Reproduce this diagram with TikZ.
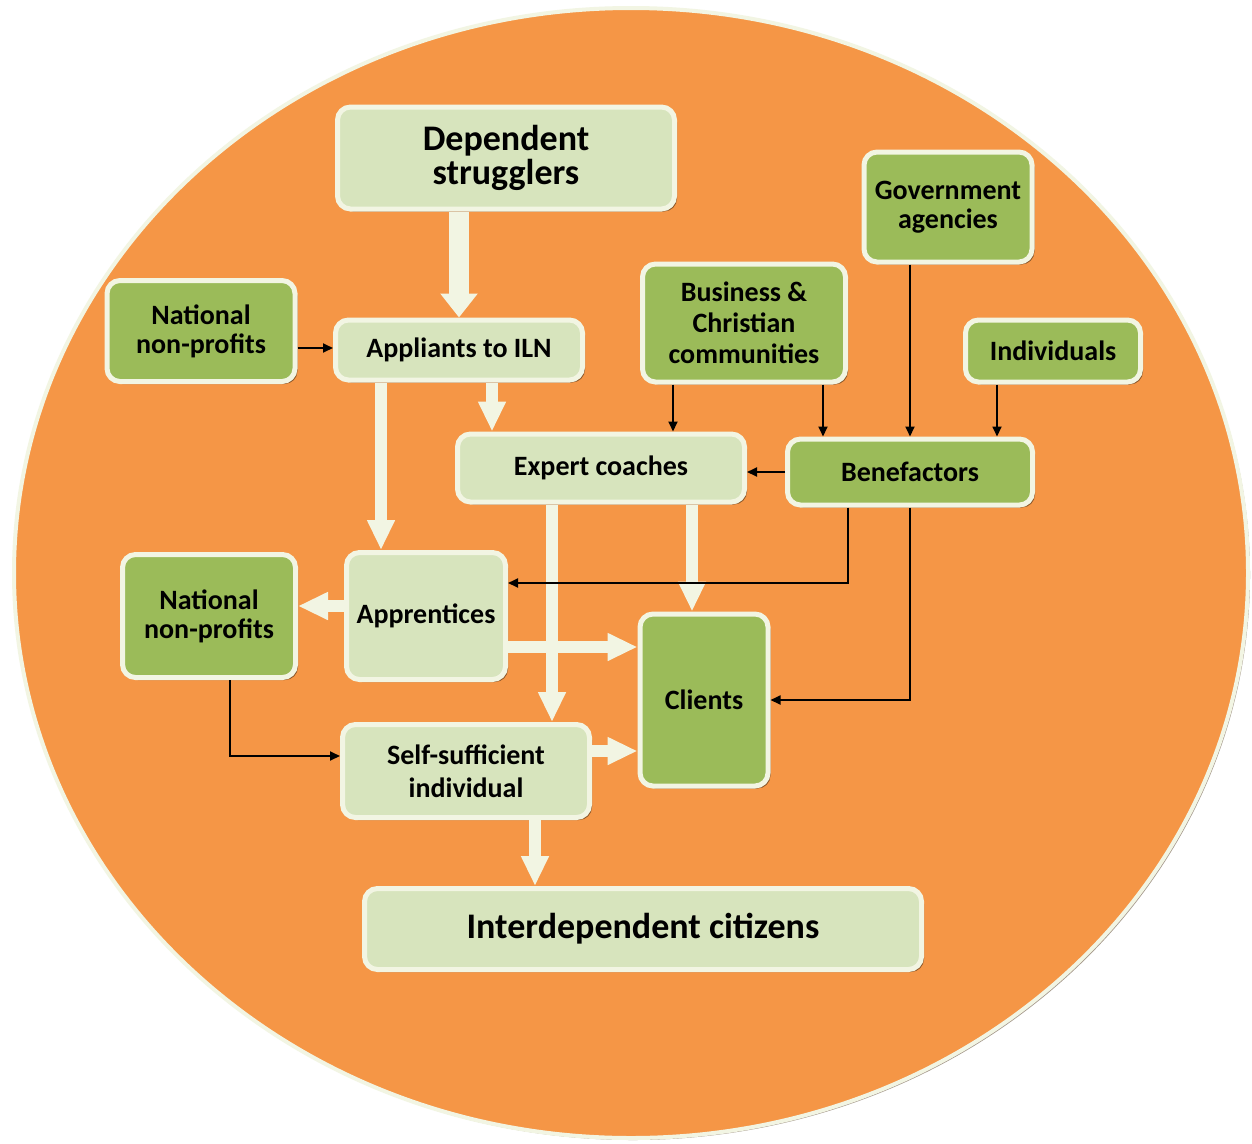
\documentclass[tikz,border=0pt]{standalone}
\usepackage{fontspec}
\setmainfont{Carlito}
\usetikzlibrary{arrows.meta,calc,shadows}

\definecolor{orangebg}{RGB}{245,150,70}
\definecolor{paleleaf}{RGB}{215,228,189}
\definecolor{leaf}{RGB}{155,187,89}
\definecolor{rimcol}{RGB}{242,245,227}

\tikzset{every picture/.style={line width=0.75pt}}
\tikzset{
  stagebox/.style={draw=rimcol, line width=5pt, rounded corners=13pt, align=center, inner sep=0pt,
    font=\bfseries\fontsize{28}{29}\selectfont,
    drop shadow={shadow xshift=2.5pt, shadow yshift=-2.5pt, fill=black!75!brown, opacity=0.55}},
  palebox/.style={stagebox, fill=paleleaf},
  leafbox/.style={stagebox, fill=leaf},
  flowarrow/.style={draw=rimcol, line width=12pt, -{Triangle[length=30pt,width=26pt]}},
  bigflowarrow/.style={draw=rimcol, line width=20pt, -{Triangle[length=24pt,width=36pt]}},
  linkarrow/.style={draw=black, line width=1.8pt, -{Triangle[length=10pt,width=9pt]}}
}

\begin{document}
\begin{tikzpicture}[x=1pt,y=1pt,yscale=-1,xscale=1]
\useasboundingbox (0,0) rectangle (1252,1143);
\fill[white] (0,0) rectangle (1252,1143);

%Shape: Ellipse
\draw[draw=rimcol, line width=4pt, fill=orangebg, drop shadow={shadow xshift=2pt, shadow yshift=-2pt, fill=black!60!brown, opacity=0.5}] (631,573) ellipse [x radius=617, y radius=565];

%Stages
\node[palebox, minimum width=337pt, minimum height=102pt, font=\bfseries\fontsize{36}{34}\selectfont] (dep) at (506,158) {Dependent\\strugglers};
\node[leafbox, minimum width=188pt, minimum height=101pt] (nnp1) at (201,331) {National\\non-profits};
\node[palebox, minimum width=247pt, minimum height=60pt] (appl) at (459,350) {Appliants to ILN};
\node[leafbox, minimum width=203pt, minimum height=118pt, font=\bfseries\fontsize{28}{31}\selectfont] (bus) at (744,323) {Business \&\\Christian\\communities};
\node[leafbox, minimum width=168pt, minimum height=110pt] (gov) at (948,207) {Government\\agencies};
\node[leafbox, minimum width=175pt, minimum height=62pt] (indiv) at (1053,351) {Individuals};
\node[palebox, minimum width=287pt, minimum height=68pt] (expert) at (601,468) {Expert coaches};
\node[leafbox, minimum width=245pt, minimum height=66pt] (bene) at (910,472) {Benefactors};
\node[leafbox, minimum width=173pt, minimum height=123pt] (nnp2) at (209,616) {National\\non-profits};
\node[palebox, minimum width=159pt, minimum height=127pt] (appr) at (426,616) {Apprentices};
\node[leafbox, minimum width=128pt, minimum height=172pt] (clients) at (704,700) {Clients};
\node[palebox, minimum width=247pt, minimum height=93pt, font=\bfseries\fontsize{28}{33}\selectfont] (self) at (466,771) {Self-sufficient\\individual};
\node[palebox, minimum width=557pt, minimum height=81pt, font=\bfseries\fontsize{36}{34}\selectfont] (citizens) at (643,929) {Interdependent citizens};

%Thick flows
\coordinate (f1) at ($(appl.south)+(-78,0)$);
\coordinate (f2) at ($(appl.south)+(33,0)$);
\coordinate (f3) at ($(expert.south)+(-49,0)$);
\coordinate (f4) at ($(expert.south)+(91,0)$);
\coordinate (f5) at ($(appr.west)+(0,-10)$);
\coordinate (f6) at ($(appr.east)+(0,31)$);
\coordinate (f7) at ($(self.east)+(0,-20)$);
\coordinate (f8) at ($(self.south)+(69,0)$);
\draw[bigflowarrow] (dep.south -| appl.north) -- (appl.north);
\draw[flowarrow] (f1) -- (f1 |- appr.north);
\draw[flowarrow] (f2) -- (f2 |- expert.north);
\draw[flowarrow] (f3) -- (f3 |- self.north);
\draw[flowarrow] (f4) -- (f4 |- clients.north);
\draw[flowarrow] (f5) -- (f5 -| nnp2.east);
\draw[flowarrow] (f6) -- (f6 -| clients.west);
\draw[flowarrow] (f7) -- (f7 -| clients.west);
\draw[flowarrow] (f8) -- (f8 |- citizens.north);

%Thin links
\coordinate (l1) at ($(nnp1.east)+(0,17)$);
\coordinate (l2) at ($(bus.south)+(-71,0)$);
\coordinate (l3) at ($(bus.south)+(79,0)$);
\coordinate (l4) at ($(gov.south)+(-38,0)$);
\coordinate (l5) at ($(indiv.south)+(-56,0)$);
\draw[linkarrow] (l1) -- (l1 -| appl.west);
\draw[linkarrow] (l2) -- (l2 |- expert.north);
\draw[linkarrow] (l3) -- (l3 |- bene.north);
\draw[linkarrow] (l4) -- (l4 |- bene.north);
\draw[linkarrow] (l5) -- (l5 |- bene.north);
\draw[linkarrow] (bene.west) -- (bene.west -| expert.east);
\draw[linkarrow] ($(bene.south)+(-62,0)$) |- ($(appr.east)+(0,-33)$);
\draw[linkarrow] (bene.south) |- (clients.east);
\draw[linkarrow] ($(nnp2.south)+(21,0)$) |- ($(self.west)+(0,-15)$);

\end{tikzpicture}
\end{document}
